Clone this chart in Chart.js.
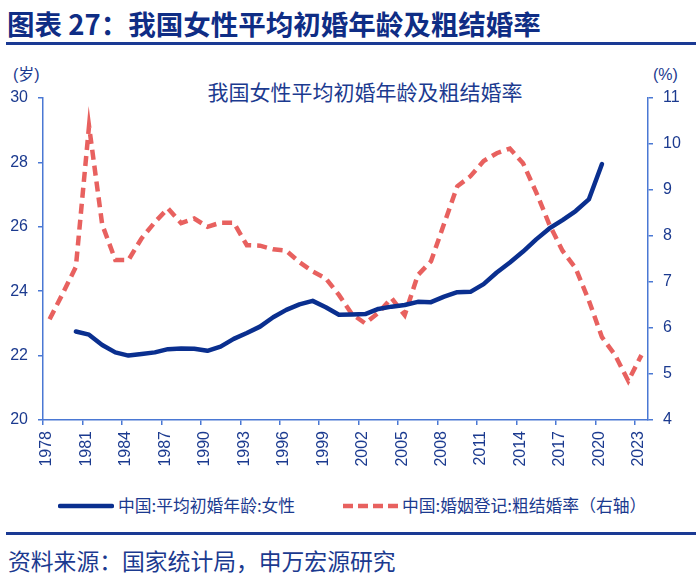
<!DOCTYPE html>
<html>
<head>
<meta charset="utf-8">
<script src="https://cdn.jsdelivr.net/npm/chart.js@4.4.1/dist/chart.umd.min.js"></script>
<style>
  body { margin: 0; background: #fff; }
  #wrap { position: relative; width: 700px; height: 582px; overflow: hidden; font-family: "Noto Sans CJK SC", sans-serif; color: #1b3a8f; }
  .abs { position: absolute; white-space: nowrap; line-height: 1; }
  #head { left: 7px; top: 10px; font-size: 27.5px; font-weight: bold; color: #0f2d85; }
  #headLine { left: 6px; top: 42px; width: 690px; height: 3px; background: #1a3a94; }
  #ctitle { left: 365px; top: 81px; font-size: 21px; transform: translateX(-50%); }
  #uL { left: 13px; top: 67px; font-size: 16px; font-family: "Liberation Sans", "Noto Sans CJK SC"; }
  #uR { left: 653px; top: 67px; font-size: 16px; font-family: "Liberation Sans"; }
  #chart { position: absolute; left: 0; top: 60px; }
  .leg { top: 497px; font-size: 16.8px; }
  #footLine { left: 6px; top: 532px; width: 690px; height: 3px; background: #1a3a94; }
  #src { left: 8px; top: 550px; font-size: 22.8px; }
  svg.abs { top: 503px; }
</style>
</head>
<body>
<div id="wrap">
  <div id="head" class="abs">图表 27：我国女性平均初婚年龄及粗结婚率</div>
  <div id="headLine" class="abs"></div>
  <div id="ctitle" class="abs">我国女性平均初婚年龄及粗结婚率</div>
  <div id="uL" class="abs">(岁)</div>
  <div id="uR" class="abs">(%)</div>
  <canvas id="chart" width="700" height="420"></canvas>
  <svg class="abs" style="left:58px" width="56" height="6"><line x1="2" y1="3" x2="54" y2="3" stroke="#0a2f8f" stroke-width="4.5" stroke-linecap="round"/></svg>
  <div class="abs leg" style="left:118px">中国:平均初婚年龄:女性</div>
  <svg class="abs" style="left:342px" width="58" height="6"><line x1="1" y1="3" x2="57" y2="3" stroke="#e8615f" stroke-width="4.5" stroke-dasharray="10 5"/></svg>
  <div class="abs leg" style="left:402px">中国:婚姻登记:粗结婚率（右轴）</div>
  <div id="footLine" class="abs"></div>
  <div id="src" class="abs">资料来源：国家统计局，申万宏源研究</div>
</div>
<script>
// 年份刻度
const tickYears = [1978, 1981, 1984, 1987, 1990, 1993, 1996, 1999, 2002, 2005, 2008, 2011, 2014, 2017, 2020, 2023];

// 女性平均初婚年龄 (岁), 1980-2020
const ageYears = [1980, 1981, 1982, 1983, 1984, 1985, 1986, 1987, 1988, 1989,
  1990, 1991, 1992, 1993, 1994, 1995, 1996, 1997, 1998, 1999,
  2000, 2001, 2002, 2003, 2004, 2005, 2006, 2007, 2008, 2009,
  2010, 2011, 2012, 2013, 2014, 2015, 2016, 2017, 2018, 2019, 2020];
const femaleAge = [22.75, 22.65, 22.33, 22.1, 22.0, 22.05, 22.1, 22.2, 22.22, 22.21,
  22.15, 22.28, 22.52, 22.7, 22.9, 23.19, 23.42, 23.59, 23.7, 23.5,
  23.27, 23.28, 23.29, 23.45, 23.52, 23.57, 23.67, 23.66, 23.83, 23.97,
  23.98, 24.22, 24.58, 24.89, 25.23, 25.61, 25.95, 26.21, 26.49, 26.85, 27.95];

// 粗结婚率 (‰), 1978-2023
const rateYears = [1978, 1979, 1980, 1981, 1982, 1983, 1984, 1985, 1986, 1987,
  1988, 1989, 1990, 1991, 1992, 1993, 1994, 1995, 1996, 1997,
  1998, 1999, 2000, 2001, 2002, 2003, 2004, 2005, 2006, 2007,
  2008, 2009, 2010, 2011, 2012, 2013, 2014, 2015, 2016, 2017,
  2018, 2019, 2020, 2021, 2022, 2023];
const marriageRate = [6.19, 6.75, 7.33, 10.39, 8.25, 7.48, 7.48, 7.95, 8.3, 8.6,
  8.28, 8.38, 8.2, 8.29, 8.29, 7.8, 7.79, 7.71, 7.68, 7.43,
  7.23, 7.08, 6.72, 6.3, 6.1, 6.33, 6.65, 6.28, 7.15, 7.45,
  8.27, 9.08, 9.3, 9.63, 9.8, 9.9, 9.58, 8.95, 8.25, 7.68,
  7.3, 6.6, 5.8, 5.41, 4.85, 5.41];

const axisColor = '#4a78d4';
const textColor = '#1b3a8f';
const tickFont = { family: 'Liberation Sans', size: 16 };

// 年度数据画在年中
const toPoints = (years, vals) => years.map((y, i) => ({ x: y + 0.5, y: vals[i] }));

new Chart(document.getElementById('chart'), {
  type: 'line',
  data: {
    datasets: [
      {
        label: '中国:平均初婚年龄:女性',
        data: toPoints(ageYears, femaleAge),
        yAxisID: 'y',
        borderColor: '#0a2f8f',
        borderWidth: 4.5,
        pointRadius: 0,
        tension: 0,
        borderJoinStyle: 'round',
        borderCapStyle: 'round'
      },
      {
        label: '中国:婚姻登记:粗结婚率（右轴）',
        data: toPoints(rateYears, marriageRate),
        yAxisID: 'y1',
        borderColor: '#e8615f',
        borderWidth: 4.5,
        borderDash: [10, 6],
        pointRadius: 0,
        tension: 0
      }
    ]
  },
  options: {
    responsive: false,
    animation: false,
    events: [],
    layout: { padding: { top: 38, left: 0, right: 0, bottom: 0 } },
    plugins: { legend: { display: false }, tooltip: { enabled: false } },
    scales: {
      x: {
        type: 'linear',
        min: 1978,
        max: 2024,
        afterBuildTicks: s => { s.ticks = tickYears.map(v => ({ value: v })); },
        afterFit: s => { s.height = 60; },
        ticks: {
          autoSkip: false,
          minRotation: 90,
          maxRotation: 90,
          padding: 6,
          labelOffset: 4,
          color: textColor,
          font: tickFont,
          callback: v => String(v)
        },
        grid: { drawOnChartArea: false, tickLength: 5, color: axisColor, lineWidth: 1.5 },
        border: { color: axisColor, width: 1.5 }
      },
      y: {
        position: 'left',
        min: 20,
        max: 30,
        afterFit: s => { s.width = 43; },
        ticks: { stepSize: 2, padding: 10, color: textColor, font: tickFont },
        grid: { drawOnChartArea: false, tickLength: 5, color: axisColor, lineWidth: 1.5 },
        border: { color: axisColor, width: 1.5 }
      },
      y1: {
        position: 'right',
        min: 4,
        max: 11,
        afterFit: s => { s.width = 52; },
        ticks: { stepSize: 1, padding: 10, color: textColor, font: tickFont },
        grid: { drawOnChartArea: false, tickLength: 5, color: axisColor, lineWidth: 1.5 },
        border: { color: axisColor, width: 1.5 }
      }
    }
  }
});
</script>
</body>
</html>
